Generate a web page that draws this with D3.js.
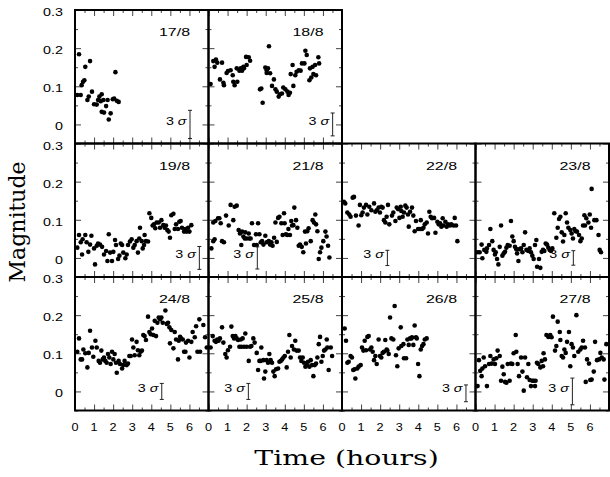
<!DOCTYPE html>
<html>
<head>
<meta charset="utf-8">
<script src="https://cdn.jsdelivr.net/npm/d3@7"></script>
<style>
body { margin: 0; background: #fff; }
text { font-family: "Liberation Sans", Arial, sans-serif; font-size: 11px; fill: #000; }
.title { font-family: "DejaVu Serif", serif; }
</style>
</head>
<body>
<svg width="610" height="477"></svg>
<script>
// nightly light curves: [hours since start, magnitude]
var days = ["17/8", "18/8", "19/8", "21/8", "22/8", "23/8", "24/8", "25/8", "26/8", "27/8"];

var obs17 = [[0.12,0.077],[0.21,0.184],[0.30,0.077],[0.35,0.103],[0.42,0.112],[0.49,0.116],[0.54,0.151],[0.65,0.064],[0.72,0.073],[0.79,0.166],[0.89,0.086],[1.00,0.053],[1.14,0.052],[1.21,0.064],[1.28,0.073],[1.35,0.061],[1.40,0.079],[1.40,0.033],[1.49,0.064],[1.52,0.031],[1.63,0.048],[1.71,0.064],[1.77,0.013],[1.87,0.029],[1.98,0.066],[2.05,0.068],[2.12,0.137],[2.19,0.062],[2.29,0.059]];
var obs18 = [[0.11,0.106],[0.25,0.166],[0.32,0.151],[0.39,0.170],[0.46,0.162],[0.60,0.118],[0.71,0.162],[0.78,0.109],[0.81,0.103],[0.95,0.135],[1.02,0.140],[1.16,0.142],[1.27,0.129],[1.30,0.112],[1.37,0.103],[1.48,0.147],[1.51,0.112],[1.62,0.141],[1.69,0.147],[1.76,0.141],[1.83,0.151],[1.86,0.147],[1.97,0.177],[2.00,0.156],[2.11,0.176],[2.18,0.167],[2.70,0.092],[2.77,0.094],[2.84,0.057],[2.98,0.149],[3.05,0.135],[3.05,0.142],[3.12,0.147],[3.17,0.205],[3.23,0.134],[3.33,0.101],[3.43,0.118],[3.51,0.092],[3.58,0.086],[3.68,0.073],[3.75,0.079],[3.85,0.081],[3.92,0.097],[4.03,0.092],[4.14,0.086],[4.20,0.077],[4.27,0.083],[4.31,0.132],[4.41,0.156],[4.45,0.101],[4.55,0.129],[4.62,0.138],[4.73,0.142],[4.83,0.141],[4.90,0.160],[5.03,0.160],[5.08,0.193],[5.15,0.182],[5.29,0.116],[5.32,0.147],[5.39,0.123],[5.46,0.151],[5.50,0.132],[5.59,0.156],[5.64,0.129],[5.76,0.176],[5.80,0.160]];
var obs19 = [[0.12,0.027],[0.21,0.060],[0.30,0.041],[0.37,0.009],[0.40,0.049],[0.54,0.060],[0.61,0.041],[0.70,0.016],[0.79,0.035],[0.86,0.058],[1.00,0.025],[1.05,-0.017],[1.14,0.032],[1.21,0.038],[1.31,0.035],[1.42,0.029],[1.52,0.009],[1.63,0.018],[1.70,-0.008],[1.77,0.062],[1.84,0.014],[1.94,-0.008],[2.01,0.016],[2.10,0.047],[2.15,0.034],[2.26,-0.003],[2.33,0.006],[2.40,0.038],[2.47,0.034],[2.53,0.014],[2.64,-0.001],[2.71,0.009],[2.78,0.034],[2.88,0.043],[2.97,0.049],[3.06,0.027],[3.13,0.034],[3.23,0.044],[3.30,0.014],[3.37,0.051],[3.41,0.079],[3.50,0.044],[3.55,0.025],[3.62,0.034],[3.65,0.060],[3.72,0.044],[3.83,0.043],[3.90,0.117],[4.00,0.105],[4.07,0.085],[4.14,0.088],[4.21,0.078],[4.28,0.093],[4.39,0.093],[4.46,0.079],[4.53,0.099],[4.63,0.086],[4.70,0.079],[4.77,0.085],[4.84,0.073],[4.91,0.069],[4.98,0.053],[5.05,0.112],[5.16,0.116],[5.23,0.076],[5.30,0.088],[5.40,0.076],[5.47,0.095],[5.54,0.097],[5.61,0.079],[5.72,0.069],[5.79,0.076],[5.86,0.069],[5.93,0.079],[6.00,0.069],[6.10,0.086]];
var obs21 = [[0.15,0.025],[0.25,0.044],[0.25,0.093],[0.32,0.049],[0.36,0.097],[0.50,0.104],[0.57,0.104],[0.64,0.091],[0.71,0.044],[0.81,0.041],[0.92,0.111],[1.06,0.085],[1.16,0.139],[1.30,0.099],[1.37,0.134],[1.48,0.137],[1.58,0.073],[1.65,0.064],[1.72,0.034],[1.76,0.069],[1.83,0.056],[1.90,0.051],[1.93,0.067],[2.00,0.051],[2.11,0.064],[2.14,0.051],[2.21,0.051],[2.28,0.091],[2.39,0.034],[2.49,0.062],[2.53,0.034],[2.60,0.091],[2.67,0.062],[2.74,0.041],[2.81,0.044],[2.88,0.035],[2.98,0.058],[3.05,0.041],[3.16,0.044],[3.23,0.035],[3.30,0.041],[3.36,0.032],[3.44,0.053],[3.51,0.093],[3.58,0.042],[3.65,0.105],[3.72,0.108],[3.82,0.091],[3.89,0.060],[3.96,0.117],[3.99,0.091],[4.06,0.062],[4.13,0.060],[4.19,0.076],[4.27,0.060],[4.34,0.097],[4.38,0.085],[4.45,0.086],[4.50,0.132],[4.59,0.099],[4.66,0.079],[4.73,0.032],[4.80,0.035],[4.89,0.029],[4.97,0.015],[5.06,0.069],[5.11,0.038],[5.18,0.070],[5.25,0.078],[5.36,0.044],[5.46,0.099],[5.53,0.093],[5.60,0.114],[5.64,0.088],[5.71,0.070],[5.78,-0.003],[5.85,0.015],[5.92,0.027],[6.02,0.044],[6.13,0.069],[6.19,0.056],[6.27,0.032],[6.34,0.001]];
var obs22 = [[0.10,0.147],[0.17,0.143],[0.28,0.119],[0.38,0.114],[0.45,0.108],[0.56,0.158],[0.63,0.160],[0.73,0.111],[0.87,0.085],[0.94,0.139],[1.01,0.112],[1.08,0.119],[1.15,0.132],[1.26,0.139],[1.33,0.114],[1.43,0.134],[1.54,0.125],[1.68,0.143],[1.75,0.121],[1.82,0.125],[1.92,0.132],[1.99,0.119],[2.06,0.134],[2.13,0.132],[2.20,0.099],[2.27,0.093],[2.34,0.108],[2.41,0.139],[2.48,0.088],[2.62,0.111],[2.69,0.119],[2.80,0.097],[2.87,0.132],[2.94,0.128],[3.01,0.105],[3.08,0.134],[3.11,0.123],[3.18,0.108],[3.25,0.119],[3.32,0.137],[3.39,0.132],[3.46,0.114],[3.50,0.082],[3.57,0.121],[3.67,0.132],[3.74,0.111],[3.81,0.070],[3.88,0.097],[3.99,0.076],[4.09,0.076],[4.13,0.099],[4.20,0.076],[4.27,0.079],[4.34,0.088],[4.44,0.093],[4.51,0.064],[4.58,0.121],[4.65,0.108],[4.72,0.104],[4.83,0.105],[4.90,0.066],[5.00,0.095],[5.07,0.088],[5.14,0.091],[5.21,0.082],[5.28,0.104],[5.31,0.085],[5.42,0.095],[5.49,0.082],[5.56,0.088],[5.66,0.085],[5.73,0.088],[5.84,0.085],[5.91,0.105],[5.98,0.085],[6.05,0.044]];
var obs23 = [[0.11,0.015],[0.22,0.015],[0.32,0.035],[0.36,-0.001],[0.46,0.021],[0.57,0.016],[0.60,0.025],[0.71,0.034],[0.78,0.076],[0.88,0.044],[0.95,0.021],[1.02,0.009],[1.06,0.015],[1.13,-0.003],[1.20,-0.017],[1.27,0.029],[1.34,0.085],[1.41,0.006],[1.48,0.012],[1.55,0.016],[1.62,0.027],[1.69,0.034],[1.79,0.032],[1.86,0.097],[1.93,0.056],[2.00,0.044],[2.07,0.029],[2.14,0.023],[2.18,0.012],[2.25,-0.008],[2.32,0.023],[2.39,0.025],[2.46,0.015],[2.53,0.034],[2.60,0.067],[2.67,0.021],[2.77,0.018],[2.84,0.025],[2.91,0.015],[2.98,0.006],[3.05,-0.003],[3.12,0.034],[3.19,0.047],[3.23,-0.023],[3.33,-0.003],[3.40,-0.026],[3.47,0.016],[3.54,0.021],[3.61,0.018],[3.68,0.038],[3.75,0.035],[3.82,0.027],[3.89,0.021],[3.96,0.018],[4.03,0.025],[4.13,0.117],[4.24,0.053],[4.31,0.079],[4.38,0.102],[4.45,0.108],[4.52,0.067],[4.59,0.043],[4.66,0.060],[4.73,0.117],[4.80,0.093],[4.87,0.079],[4.97,0.073],[5.04,0.064],[5.11,0.051],[5.18,0.076],[5.25,0.070],[5.32,0.069],[5.43,0.060],[5.50,0.044],[5.57,0.051],[5.64,0.085],[5.71,0.112],[5.74,0.085],[5.81,0.104],[5.92,0.093],[5.99,0.114],[6.06,0.079],[6.09,0.181],[6.23,0.099],[6.34,0.099],[6.45,0.060],[6.51,0.021],[6.58,0.015]];
var obs24 = [[0.12,0.104],[0.21,0.139],[0.30,0.084],[0.37,0.084],[0.44,0.110],[0.54,0.100],[0.65,0.063],[0.72,0.101],[0.79,0.159],[0.89,0.115],[0.96,0.091],[1.07,0.133],[1.14,0.115],[1.24,0.080],[1.31,0.075],[1.38,0.107],[1.45,0.084],[1.52,0.089],[1.59,0.080],[1.66,0.075],[1.73,0.098],[1.80,0.089],[1.87,0.072],[1.94,0.104],[2.01,0.084],[2.08,0.098],[2.15,0.075],[2.19,0.049],[2.29,0.080],[2.36,0.072],[2.47,0.060],[2.53,0.069],[2.60,0.080],[2.71,0.069],[2.78,0.073],[2.85,0.093],[2.92,0.093],[2.99,0.136],[3.06,0.115],[3.13,0.095],[3.23,0.130],[3.30,0.108],[3.37,0.095],[3.44,0.104],[3.51,0.107],[3.58,0.148],[3.65,0.145],[3.72,0.135],[3.83,0.196],[3.90,0.156],[3.97,0.150],[4.04,0.165],[4.11,0.148],[4.18,0.185],[4.25,0.145],[4.32,0.180],[4.39,0.194],[4.46,0.189],[4.53,0.194],[4.60,0.180],[4.74,0.212],[4.81,0.177],[4.88,0.180],[4.95,0.168],[4.98,0.126],[5.05,0.161],[5.16,0.113],[5.23,0.156],[5.30,0.136],[5.40,0.084],[5.44,0.133],[5.51,0.143],[5.56,0.139],[5.65,0.136],[5.72,0.104],[5.79,0.104],[5.82,0.128],[5.93,0.133],[6.00,0.089],[6.10,0.130],[6.17,0.156],[6.28,0.142],[6.35,0.171],[6.42,0.104],[6.52,0.189],[6.56,0.104],[6.73,0.174],[6.82,0.142],[6.91,0.115]];
var obs25 = [[0.11,0.115],[0.22,0.145],[0.32,0.133],[0.39,0.130],[0.46,0.136],[0.53,0.133],[0.60,0.139],[0.71,0.168],[0.78,0.128],[0.88,0.098],[0.95,0.089],[1.02,0.108],[1.13,0.117],[1.20,0.170],[1.27,0.145],[1.34,0.139],[1.41,0.145],[1.48,0.139],[1.55,0.135],[1.62,0.117],[1.69,0.136],[1.72,0.117],[1.79,0.139],[1.86,0.117],[1.93,0.152],[2.00,0.117],[2.11,0.080],[2.18,0.117],[2.25,0.119],[2.35,0.139],[2.42,0.128],[2.53,0.101],[2.60,0.056],[2.67,0.080],[2.74,0.080],[2.77,0.115],[2.88,0.082],[2.91,0.034],[2.98,0.052],[3.05,0.082],[3.12,0.075],[3.19,0.098],[3.26,0.082],[3.33,0.075],[3.40,0.052],[3.47,0.040],[3.54,0.058],[3.65,0.060],[3.72,0.078],[3.79,0.080],[3.86,0.084],[3.93,0.089],[4.00,0.093],[4.10,0.063],[4.17,0.104],[4.24,0.148],[4.31,0.089],[4.38,0.119],[4.48,0.110],[4.55,0.133],[4.62,0.107],[4.73,0.107],[4.80,0.089],[4.87,0.080],[4.94,0.089],[5.01,0.075],[5.08,0.065],[5.15,0.069],[5.22,0.078],[5.29,0.065],[5.36,0.082],[5.43,0.069],[5.50,0.040],[5.57,0.069],[5.64,0.073],[5.71,0.089],[5.78,0.124],[5.85,0.143],[5.92,0.078],[5.99,0.093],[6.06,0.107],[6.13,0.110],[6.20,0.136],[6.23,0.115],[6.30,0.056],[6.41,0.115],[6.48,0.093]];
var obs26 = [[0.14,0.165],[0.21,0.133],[0.28,0.075],[0.35,0.078],[0.45,0.093],[0.52,0.089],[0.59,0.056],[0.66,0.058],[0.70,0.034],[0.80,0.060],[0.87,0.065],[0.98,0.069],[1.05,0.115],[1.12,0.107],[1.19,0.133],[1.26,0.108],[1.33,0.143],[1.40,0.145],[1.47,0.110],[1.54,0.115],[1.61,0.104],[1.68,0.082],[1.75,0.093],[1.82,0.072],[1.92,0.136],[1.99,0.093],[2.06,0.089],[2.13,0.101],[2.20,0.104],[2.27,0.135],[2.34,0.110],[2.38,0.107],[2.45,0.098],[2.52,0.194],[2.59,0.139],[2.69,0.136],[2.76,0.224],[2.83,0.095],[2.90,0.066],[2.97,0.113],[3.08,0.168],[3.11,0.119],[3.22,0.124],[3.25,0.087],[3.36,0.087],[3.43,0.136],[3.50,0.122],[3.57,0.139],[3.64,0.139],[3.67,0.142],[3.74,0.122],[3.81,0.173],[3.88,0.142],[3.92,0.139],[3.99,0.072],[4.06,0.040],[4.13,0.110],[4.20,0.119],[4.27,0.124],[4.34,0.136],[4.44,0.139]];
var obs27 = [[0.11,0.014],[0.18,0.082],[0.25,0.054],[0.32,0.040],[0.36,0.060],[0.43,0.089],[0.50,0.066],[0.60,0.014],[0.71,0.072],[0.78,0.093],[0.85,0.073],[0.95,0.084],[1.02,0.072],[1.09,0.087],[1.16,0.107],[1.27,0.093],[1.34,0.028],[1.41,0.065],[1.48,0.045],[1.55,0.025],[1.62,0.023],[1.69,0.072],[1.79,0.028],[1.86,0.073],[1.93,0.072],[2.00,0.100],[2.11,0.148],[2.14,0.104],[2.21,0.072],[2.28,0.040],[2.39,0.089],[2.46,0.052],[2.53,0.002],[2.60,0.089],[2.70,0.037],[2.77,0.072],[2.84,0.030],[2.91,0.014],[2.98,0.028],[3.05,0.028],[3.12,0.014],[3.15,0.028],[3.22,0.075],[3.29,0.072],[3.40,0.063],[3.47,0.080],[3.54,0.066],[3.57,0.100],[3.64,0.084],[3.72,0.148],[3.82,0.143],[3.89,0.145],[3.92,0.148],[3.99,0.142],[4.06,0.196],[4.17,0.107],[4.24,0.119],[4.31,0.183],[4.42,0.156],[4.45,0.135],[4.52,0.093],[4.59,0.089],[4.66,0.110],[4.73,0.101],[4.80,0.130],[4.90,0.156],[4.97,0.066],[5.04,0.124],[5.11,0.115],[5.18,0.093],[5.29,0.200],[5.39,0.104],[5.50,0.110],[5.57,0.115],[5.64,0.133],[5.74,0.115],[5.78,0.025],[5.85,0.084],[5.95,0.073],[6.02,0.030],[6.09,0.031],[6.20,0.052],[6.27,0.130],[6.37,0.082],[6.48,0.084],[6.55,0.101],[6.62,0.089],[6.72,0.084],[6.76,0.031],[6.86,0.124]];

var nights = [obs17, obs18, obs19, obs21, obs22, obs23, obs24, obs25, obs26, obs27];

// 3 sigma error bar of each night: where it sits (hours), its centre and half length (mag)
var sigmaT = [6.03, 6.51, 6.52, 2.56, 2.38, 5.13, 4.55, 2.09, 6.50, 5.08];
var sigmaMid = [0, 0, 0, 0, 0, 0, 0, 0, -0.005, 0];
var sigmaHalf = [0.037, 0.030, 0.030, 0.029, 0.020, 0.019, 0.021, 0.021, 0.022, 0.035];

var xTickLabels = [0, 1, 2, 3, 4, 5, 6];
var yTickLabels = [0, 0.1, 0.2, 0.3];

var svg = d3.select("svg");
var gridLeft = 75, gridTop = 10, pw = 133.5, ph = 133.5;
// grid cell [row, col] of each night, top row only has two
var cells = [[0,0],[0,1],[1,0],[1,1],[1,2],[1,3],[2,0],[2,1],[2,2],[2,3]];

var x = d3.scaleLinear().domain([0, 7]).range([0, pw]);
var y = d3.scaleLinear().domain([-0.05, 0.3]).range([ph, 0]);

var xMajor = d3.range(0, 7.01, 1), xMinor = d3.range(0.5, 7, 1);
var yMajor = d3.range(0, 0.301, 0.1), yMinor = d3.range(-0.05, 0.3, 0.1);

// text in the figure is stretched sideways
function stext(g, px, py, str, anchor, sx) {
    return g.append("text")
        .attr("transform", "translate(" + px + "," + py + ") scale(" + sx + ",1)")
        .attr("text-anchor", anchor)
        .text(str);
}

function ticks(g, axis, vals, len) {
    g.call(axis.tickValues(vals).tickSize(-len).tickFormat(""));
    g.select(".domain").remove();
    g.selectAll(".tick line").attr("stroke", "#444").attr("stroke-width", 1);
}

days.forEach(function (day, i) {
    var row = cells[i][0], col = cells[i][1];
    var g = svg.append("g")
        .attr("transform", "translate(" + (gridLeft + col * pw) + "," + (gridTop + row * ph) + ")");

    [[xMajor, 6], [xMinor, 3]].forEach(function (s) {
        ticks(g.append("g").attr("transform", "translate(0," + ph + ")"), d3.axisBottom(x), s[0], s[1]);
        ticks(g.append("g"), d3.axisTop(x), s[0], s[1]);
    });
    [[yMajor, 6], [yMinor, 3]].forEach(function (s) {
        ticks(g.append("g"), d3.axisLeft(y), s[0], s[1]);
        ticks(g.append("g").attr("transform", "translate(" + pw + ",0)"), d3.axisRight(y), s[0], s[1]);
    });

    g.append("rect")
        .attr("width", pw).attr("height", ph)
        .attr("fill", "none").attr("stroke", "#000").attr("stroke-width", 2);

    g.selectAll("circle")
        .data(nights[i])
        .enter().append("circle")
        .attr("cx", function (d) { return x(d[0]); })
        .attr("cy", function (d) { return y(d[1]); })
        .attr("r", 2.3)
        .attr("fill", "#000");

    stext(g, pw - 18.5, 26, day, "end", 1.45);

    // 3 sigma bar
    var bx = x(sigmaT[i]);
    var y1 = y(sigmaMid[i] + sigmaHalf[i]), y2 = y(sigmaMid[i] - sigmaHalf[i]);
    var bar = g.append("g").attr("stroke", "#222").attr("stroke-width", 1);
    bar.append("line").attr("x1", bx).attr("x2", bx).attr("y1", y1).attr("y2", y2);
    bar.append("line").attr("x1", bx - 2).attr("x2", bx + 2).attr("y1", y1).attr("y2", y1);
    bar.append("line").attr("x1", bx - 2).attr("x2", bx + 2).attr("y1", y2).attr("y2", y2);
    var lab = stext(g, bx - 3.5, y(0) + 0.5, "", "end", 1.3);
    lab.append("tspan").text("3 ");
    lab.append("tspan").style("font-style", "italic").text("σ");
});

// y tick labels on the left of each row
[0, 1, 2].forEach(function (row) {
    yTickLabels.forEach(function (v) {
        stext(svg, 63, gridTop + row * ph + y(v) + 6, v === 0 ? "0" : d3.format(".1f")(v), "end", 1.3);
    });
});

// x tick labels under each column
[0, 1, 2, 3].forEach(function (col) {
    xTickLabels.forEach(function (v) {
        stext(svg, gridLeft + col * pw + x(v), 430.5, String(v), "middle", 1.15);
    });
});

stext(svg, 346.5, 465, "Time (hours)", "middle", 1.35)
    .attr("class", "title").style("font-size", "21px");

svg.append("text")
    .attr("class", "title")
    .attr("transform", "translate(25,222) rotate(-90)")
    .attr("text-anchor", "middle")
    .style("font-size", "22px")
    .text("Magnitude");
</script>
</body>
</html>
